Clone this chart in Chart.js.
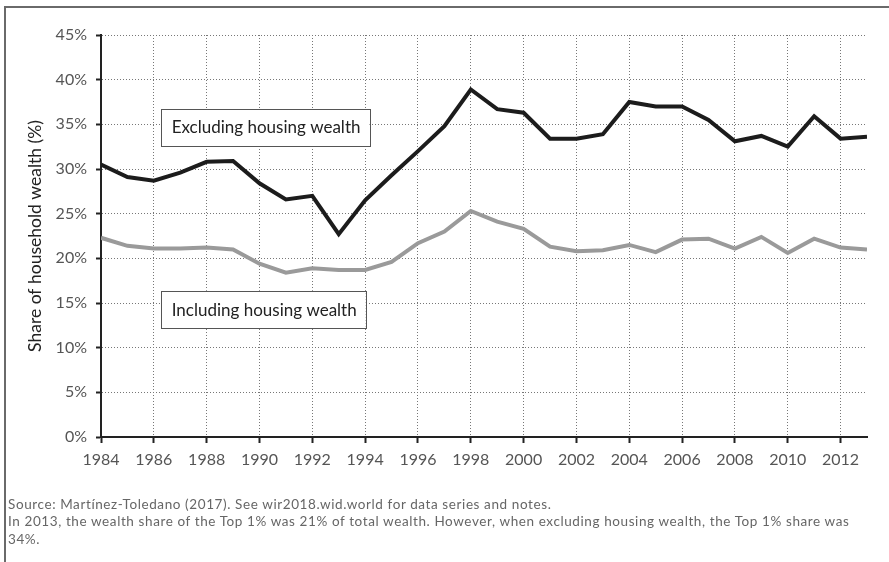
<!DOCTYPE html>
<html>
<head>
<meta charset="utf-8">
<script src="https://cdn.jsdelivr.net/npm/chart.js@4.4.1/dist/chart.umd.min.js"></script>
<style>
  html, body { margin: 0; padding: 0; background: #fff; }
  #wrap { position: relative; width: 889px; height: 562px; overflow: hidden; }
  #frame { position: absolute; left: 4px; top: 6px; width: 900px; height: 600px;
           border-top: 2px solid #6a6a6a; border-left: 2px solid #6a6a6a; }
  #chart { position: absolute; left: 0; top: 0; }
  .note { position: absolute; left: 8px; font-family: Lato, sans-serif; font-size: 13.5px;
          letter-spacing: 0.6px; color: #666; line-height: 17.4px; white-space: nowrap; }
</style>
</head>
<body>
<div id="wrap">
  <div id="frame"></div>
  <canvas id="chart" width="889" height="562"></canvas>
  <div class="note" style="top:496px">Source: Martínez-Toledano (2017). See wir2018.wid.world for data series and notes.<br>In 2013, the wealth share of the Top 1% was 21% of total wealth. However, when excluding housing wealth, the Top 1% share was<br>34%.</div>
</div>
<script>
// values
var years = [1984, 1985, 1986, 1987, 1988, 1989, 1990, 1991, 1992, 1993,
             1994, 1995, 1996, 1997, 1998, 1999, 2000, 2001, 2002, 2003,
             2004, 2005, 2006, 2007, 2008, 2009, 2010, 2011, 2012, 2013];
var excludingHousing = [30.5, 29.1, 28.7, 29.6, 30.8, 30.9, 28.4, 26.6, 27.0, 22.7,
                        26.5, 29.3, 32.0, 34.8, 38.9, 36.7, 36.3, 33.4, 33.4, 33.9,
                        37.5, 37.0, 37.0, 35.5, 33.1, 33.7, 32.5, 35.9, 33.4, 33.6];
var includingHousing = [22.3, 21.4, 21.1, 21.1, 21.2, 21.0, 19.4, 18.4, 18.9, 18.7,
                        18.7, 19.6, 21.7, 23.0, 25.3, 24.1, 23.3, 21.3, 20.8, 20.9,
                        21.5, 20.7, 22.1, 22.2, 21.1, 22.4, 20.6, 22.2, 21.2, 21.0];
var seriesNames = ["Excluding housing wealth", "Including housing wealth"];
// where the two boxed labels sit, in data units (year, %)
var labelYears = [1986.26, 1986.26];
var labelValues = [34.7, 14.3];

function points(vals) {
  return years.map(function (yr, i) { return { x: yr, y: vals[i] }; });
}

var boxLabels = {
  id: "boxLabels",
  afterDatasetsDraw: function (chart) {
    var ctx = chart.ctx, xs = chart.scales.x, ys = chart.scales.y;
    ctx.save();
    ctx.font = "17px Lato";
    ctx.textBaseline = "middle";
    for (var i = 0; i < seriesNames.length; i++) {
      var x = xs.getPixelForValue(labelYears[i]);
      var y = ys.getPixelForValue(labelValues[i]);
      var w = ctx.measureText(seriesNames[i]).width + 20;
      var h = 37;
      ctx.fillStyle = "#fff";
      ctx.fillRect(x, y - h / 2, w, h);
      ctx.strokeStyle = "#555";
      ctx.lineWidth = 1;
      ctx.strokeRect(Math.round(x) + 0.5, Math.round(y - h / 2) + 0.5, Math.round(w), h);
      ctx.fillStyle = "#222";
      ctx.fillText(seriesNames[i], x + 11, y + 1);
    }
    ctx.restore();
  }
};

new Chart(document.getElementById("chart"), {
  type: "line",
  data: {
    datasets: [
      { label: seriesNames[0], data: points(excludingHousing), borderColor: "#1c1c1c", borderWidth: 4, pointRadius: 0, tension: 0 },
      { label: seriesNames[1], data: points(includingHousing), borderColor: "#9a9a9a", borderWidth: 4, pointRadius: 0, tension: 0 }
    ]
  },
  options: {
    responsive: false,
    animation: false,
    layout: { padding: { left: 0, right: 22, top: 35, bottom: 90 } },
    plugins: { legend: { display: false }, tooltip: { enabled: false } },
    scales: {
      x: {
        type: "linear",
        min: 1984,
        max: 2013,
        afterFit: function (s) { s.height = 35; },
        ticks: {
          stepSize: 2,
          includeBounds: false,
          color: "#555",
          font: { family: "Lato", size: 16 },
          padding: 7,
          maxRotation: 0,
          callback: function (v) { return String(v); }
        },
        grid: { color: "#777", lineWidth: 1, tickLength: 6, tickColor: "#222", tickWidth: 2 },
        border: { display: true, color: "#222", width: 2, dash: [1, 2] }
      },
      y: {
        min: 0,
        max: 45,
        afterFit: function (s) { s.width = 101; },
        ticks: {
          stepSize: 5,
          color: "#555",
          font: { family: "Lato", size: 16 },
          padding: 9,
          callback: function (v) { return v + "%"; }
        },
        grid: { color: "#777", lineWidth: 1, tickLength: 5, tickColor: "#222", tickWidth: 2 },
        border: { display: true, color: "#222", width: 2, dash: [1, 2] },
        title: {
          display: true,
          text: "Share of household wealth (%)",
          color: "#222",
          font: { family: "Lato", size: 17.5 },
          padding: { top: 25, bottom: 0 }
        }
      }
    }
  },
  plugins: [boxLabels]
});
</script>
</body>
</html>
